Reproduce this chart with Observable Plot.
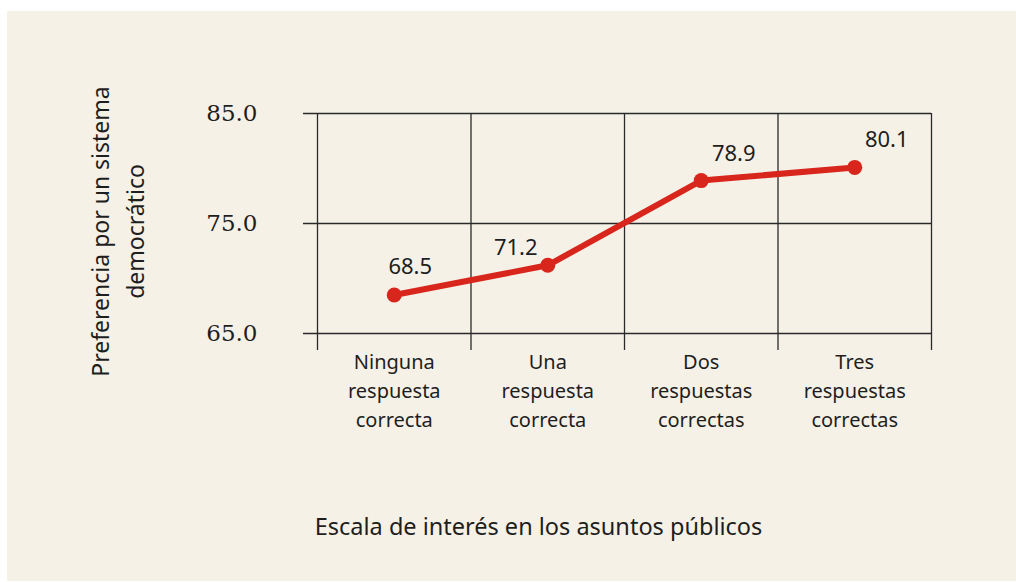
<!DOCTYPE html>
<html><head><meta charset="utf-8">
<script src="https://cdn.jsdelivr.net/npm/d3@7"></script>
<script src="https://cdn.jsdelivr.net/npm/@observablehq/plot@0.6"></script>
<style>
html,body{margin:0;padding:0;background:#fff;}
#wrap{position:relative;width:1016px;height:582px;overflow:hidden;}
#panel{position:absolute;left:7px;top:11px;width:1009px;height:570px;background:#f5f1e7;}
#chart{position:absolute;left:0;top:0;}
</style></head><body>
<div id="wrap"><div id="panel"></div><div id="chart"></div></div>
<script>
// Data
const categories = ["Ninguna\nrespuesta\ncorrecta", "Una\nrespuesta\ncorrecta", "Dos\nrespuestas\ncorrectas", "Tres\nrespuestas\ncorrectas"];
const values = [68.5, 71.2, 78.9, 80.1];
const yTicks = [65, 75, 85];
const yTitle = "Preferencia por un sistema\ndemocrático";
const xTitle = "Escala de interés en los asuntos públicos";

// Label offsets (pixels) — presentation only
const labelOffsets = [[16, -28], [-32, -17], [32.5, -26.5], [32, -27]];

const data = categories.map((c, i) => ({pos: i + 0.5, cat: c, value: values[i]}));
const bounds = d3.range(categories.length + 1);
const RED = "#d8261d";
const INK = "#2a2a2a";
const SANS = "'Noto Sans', sans-serif";
const SERIF = "'DejaVu Serif', serif";

const chart = Plot.plot({
  width: 1016, height: 582,
  marginLeft: 317, marginRight: 85, marginTop: 113, marginBottom: 249,
  style: {background: "transparent", overflow: "visible"},
  x: {type: "linear", domain: [0, categories.length], axis: null},
  y: {domain: [65, 85], axis: null},
  marks: [
    Plot.ruleY(yTicks, {stroke: INK, strokeWidth: 1.3, insetLeft: -14}),
    Plot.ruleX(bounds, {stroke: INK, strokeWidth: 1.3, insetBottom: -17}),
    Plot.axisY({ticks: yTicks, tickFormat: d => d.toFixed(1), tickSize: 0, tickPadding: 60,
      fontSize: 23, fontFamily: SERIF, fill: "#1e1e1e", label: null}),
    Plot.axisX({ticks: data.map(d => d.pos), tickFormat: v => categories[Math.round(v - 0.5)],
      tickSize: 0, tickPadding: 15, fontSize: 20, fontFamily: SANS, fill: "#1e1e1e",
      lineHeight: 1.45, label: null}),
    Plot.line(data, {x: "pos", y: "value", stroke: RED, strokeWidth: 6}),
    Plot.dot(data, {x: "pos", y: "value", r: 7.5, fill: RED}),
    ...data.map((d, i) => Plot.text([d], {x: "pos", y: "value", text: d => d.value.toFixed(1),
      dx: labelOffsets[i][0], dy: labelOffsets[i][1], fontSize: 22, fontFamily: SANS, fill: "#1e1e1e"})),
    Plot.text([yTitle], {frameAnchor: "left", text: d => d, rotate: -90, dx: -202, dy: 8,
      fontSize: 23, fontFamily: SANS, fill: "#1e1e1e", lineHeight: 1.5, textAnchor: "middle"}),
    Plot.text([xTitle], {frameAnchor: "bottom", text: d => d, dx: -86, dy: 194,
      fontSize: 23.5, fontFamily: SANS, fill: "#1e1e1e", textAnchor: "middle", lineAnchor: "middle"})
  ]
});
document.getElementById("chart").appendChild(chart);
</script>
</body></html>
